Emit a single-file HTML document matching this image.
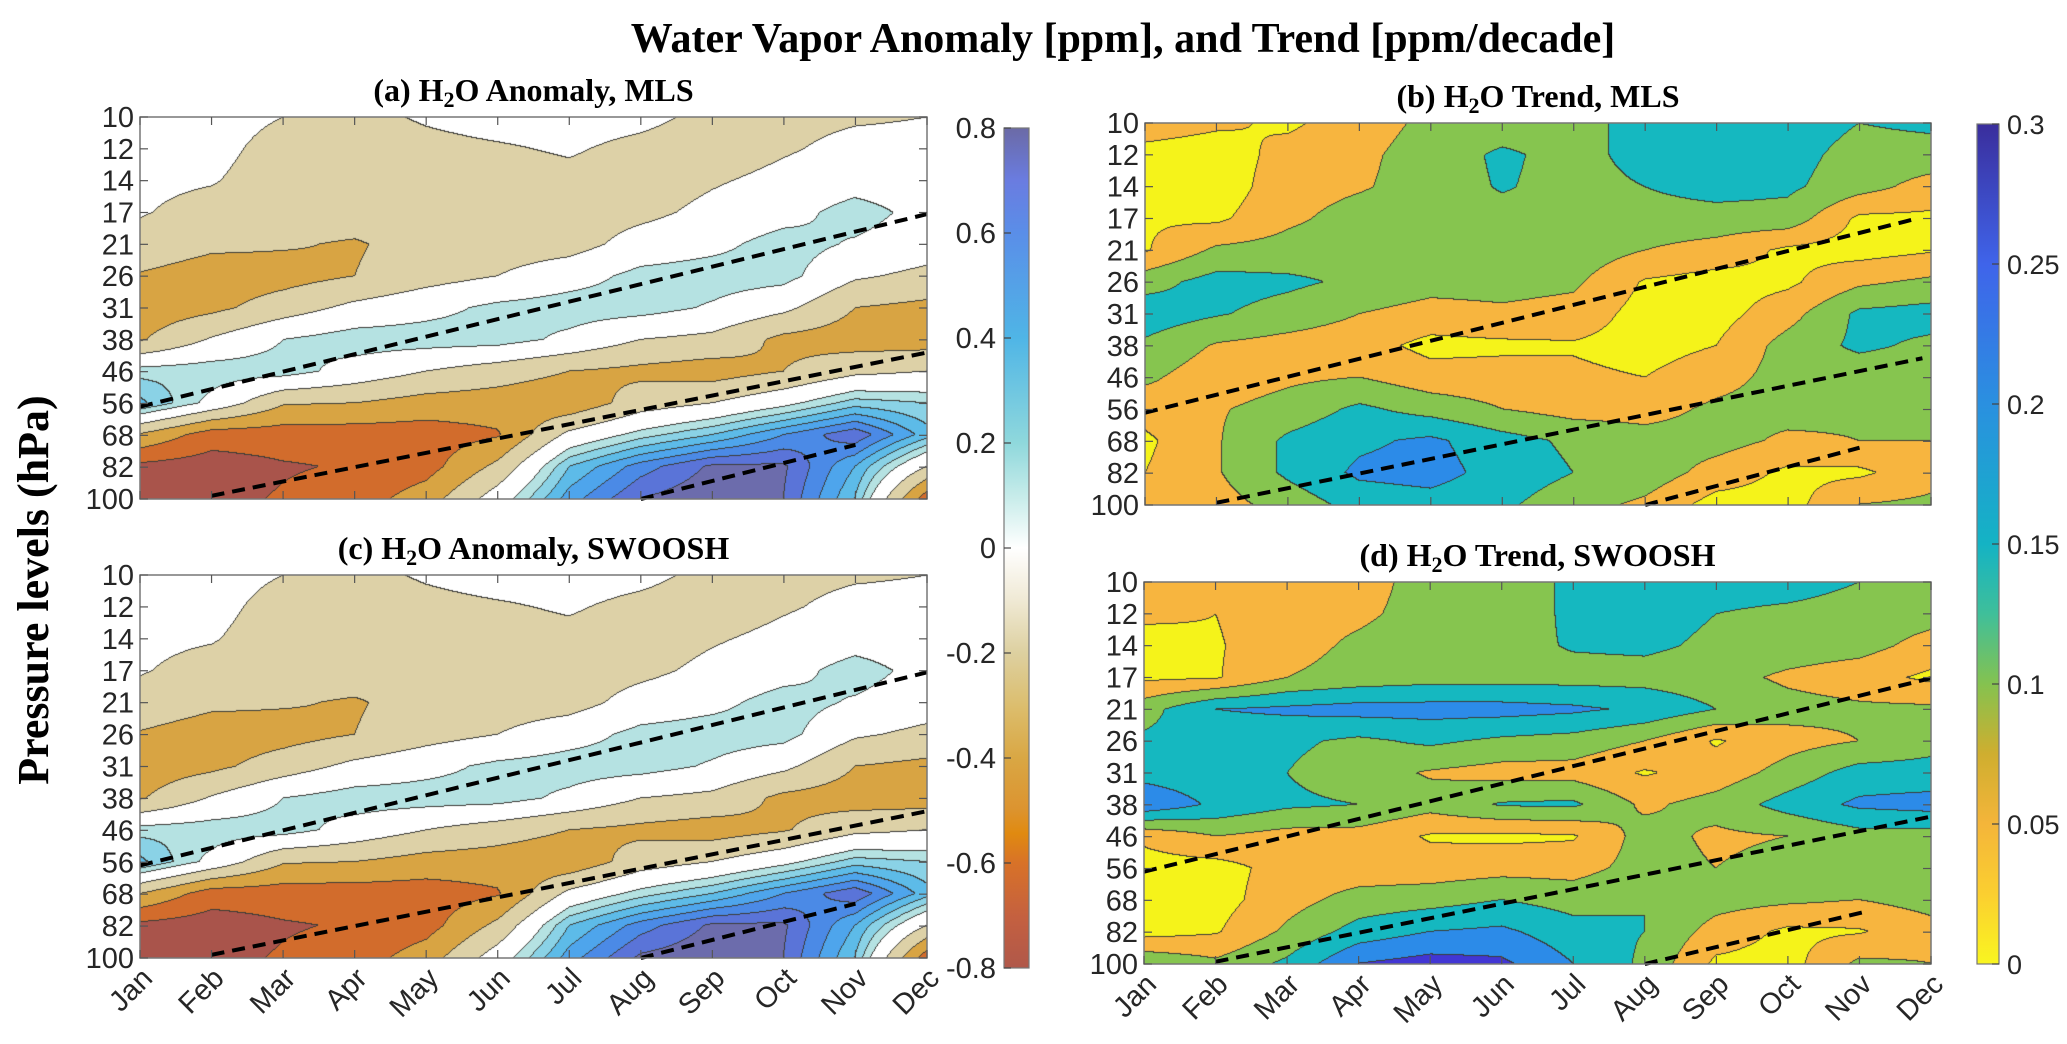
<!DOCTYPE html>
<html><head><meta charset="utf-8">
<style>
html,body{margin:0;padding:0;background:#fff;}
#root{position:relative;width:2067px;height:1044px;overflow:hidden;background:#fff;}
canvas{position:absolute;}
svg{position:absolute;left:0;top:0;}
</style></head>
<body>
<div id="root">
<canvas id="cvA"></canvas>
<canvas id="cvB"></canvas>
<canvas id="cvC"></canvas>
<canvas id="cvD"></canvas>
<svg id="ov" width="2067" height="1044">
<defs>
<linearGradient id="gA" x1="0" y1="0" x2="0" y2="1">
<stop offset="0" stop-color="#6b6aa6"/><stop offset="0.0625" stop-color="#6a7ce0"/><stop offset="0.125" stop-color="#5a8ee8"/>
<stop offset="0.25" stop-color="#4fb5e6"/><stop offset="0.375" stop-color="#8fd8dc"/><stop offset="0.44" stop-color="#c8ecea"/>
<stop offset="0.5" stop-color="#ffffff"/><stop offset="0.56" stop-color="#f0ead6"/><stop offset="0.625" stop-color="#ddd0a0"/>
<stop offset="0.69" stop-color="#dcbd6c"/><stop offset="0.75" stop-color="#d9a744"/><stop offset="0.81" stop-color="#dc9430"/>
<stop offset="0.84" stop-color="#e08a10"/><stop offset="0.875" stop-color="#d87228"/><stop offset="0.94" stop-color="#c46040"/>
<stop offset="1" stop-color="#b0584a"/></linearGradient>
<linearGradient id="gB" x1="0" y1="0" x2="0" y2="1">
<stop offset="0" stop-color="#3a2e9c"/><stop offset="0.167" stop-color="#3f64ea"/><stop offset="0.333" stop-color="#2a90e0"/>
<stop offset="0.5" stop-color="#14b3c4"/><stop offset="0.583" stop-color="#3fbf9a"/><stop offset="0.667" stop-color="#85c24f"/>
<stop offset="0.75" stop-color="#cfae2f"/><stop offset="0.833" stop-color="#f4b53a"/><stop offset="0.917" stop-color="#fbcf30"/>
<stop offset="1" stop-color="#f9f520"/></linearGradient>
</defs>
<text x="1123" y="52" text-anchor="middle" font-family="Liberation Serif, serif" font-weight="bold" font-size="42">Water Vapor Anomaly [ppm], and Trend [ppm/decade]</text>
<text transform="translate(48,590) rotate(-90)" text-anchor="middle" font-family="Liberation Serif, serif" font-weight="bold" font-size="44">Pressure levels (hPa)</text>
</svg>
</div>
<script>
const months=['Jan','Feb','Mar','Apr','May','Jun','Jul','Aug','Sep','Oct','Nov','Dec'];
const levels=['10','12','14','17','21','26','31','38','46','56','68','82','100'];
const anomTickVals=[0.8,0.6,0.4,0.2,0,-0.2,-0.4,-0.6,-0.8];
const anomTickLabels=['0.8','0.6','0.4','0.2','0','-0.2','-0.4','-0.6','-0.8'];
const trendTickVals=[0.3,0.25,0.2,0.15,0.1,0.05,0];
const trendTickLabels=['0.3','0.25','0.2','0.15','0.1','0.05','0'];
const anomEdges=[-0.7,-0.5,-0.3,-0.1,0.1,0.2,0.3,0.4,0.5,0.6,0.7];
const anomColors=['#a9544b','#d26c2c','#d8a443','#ddd1a7','#ffffff','#b5e2e2','#8ad2e6','#5dbbe8','#4ea5ec','#4b8ae6','#5a74d8','#6c6cac'];
const trendEdges=[0.05,0.1,0.15,0.2,0.25];
const trendColors=['#f5f31a','#f7b53f','#86c54f','#15b8c0','#2c8be8','#4236d4'];
// each entry = one month, values from 10 hPa (top) to 100 hPa (bottom)
const anomMLS=[
[-0.05,-0.05,-0.07,-0.09,-0.15,-0.32,-0.42,-0.32,0.16,0.33,-0.32,-0.75,-0.75],
[-0.05,-0.06,-0.09,-0.15,-0.25,-0.42,-0.35,-0.08,0.18,0.05,-0.6,-0.8,-0.76],
[-0.1,-0.15,-0.17,-0.2,-0.28,-0.38,-0.2,0.1,0.17,-0.28,-0.6,-0.72,-0.68],
[-0.15,-0.2,-0.2,-0.2,-0.32,-0.3,-0.05,0.18,0.03,-0.3,-0.6,-0.68,-0.6],
[-0.08,-0.15,-0.2,-0.22,-0.22,-0.18,0.04,0.18,-0.1,-0.38,-0.6,-0.58,-0.4],
[-0.03,-0.12,-0.18,-0.2,-0.2,-0.1,0.14,0.17,-0.2,-0.4,-0.52,-0.25,0.0],
[-0.02,-0.08,-0.15,-0.2,-0.18,0.02,0.18,0.06,-0.3,-0.45,-0.05,0.3,0.45],
[-0.05,-0.15,-0.2,-0.15,-0.02,0.15,0.17,-0.1,-0.35,-0.2,0.15,0.55,0.7],
[-0.15,-0.2,-0.12,-0.05,0.05,0.18,0.08,-0.15,-0.4,-0.1,0.3,0.72,0.78],
[-0.15,-0.12,-0.05,0.03,0.17,0.16,-0.05,-0.35,-0.3,0.05,0.5,0.72,0.7],
[-0.12,-0.05,0.02,0.17,0.08,-0.07,-0.3,-0.4,-0.15,0.25,0.68,0.4,0.3],
[-0.1,-0.05,0.0,0.04,0.0,-0.15,-0.35,-0.4,-0.1,0.2,0.35,-0.1,-0.6]];
const anomSWOOSH=[
[-0.05,-0.05,-0.07,-0.09,-0.15,-0.32,-0.42,-0.32,0.16,0.33,-0.3,-0.75,-0.75],
[-0.05,-0.06,-0.09,-0.15,-0.25,-0.42,-0.35,-0.08,0.18,0.05,-0.6,-0.8,-0.76],
[-0.1,-0.15,-0.17,-0.2,-0.28,-0.38,-0.2,0.1,0.17,-0.28,-0.6,-0.72,-0.68],
[-0.15,-0.2,-0.2,-0.2,-0.32,-0.3,-0.05,0.18,0.03,-0.3,-0.6,-0.68,-0.6],
[-0.08,-0.15,-0.2,-0.22,-0.22,-0.18,0.04,0.18,-0.1,-0.38,-0.6,-0.58,-0.4],
[-0.03,-0.12,-0.18,-0.2,-0.2,-0.1,0.14,0.17,-0.2,-0.4,-0.52,-0.25,0.0],
[-0.02,-0.08,-0.15,-0.2,-0.18,0.02,0.18,0.06,-0.3,-0.45,-0.05,0.3,0.45],
[-0.05,-0.15,-0.2,-0.15,-0.02,0.15,0.17,-0.1,-0.35,-0.2,0.15,0.55,0.72],
[-0.15,-0.2,-0.12,-0.05,0.05,0.18,0.08,-0.15,-0.4,-0.1,0.3,0.72,0.78],
[-0.15,-0.12,-0.05,0.03,0.17,0.16,-0.05,-0.35,-0.32,0.05,0.5,0.72,0.7],
[-0.12,-0.05,0.02,0.17,0.08,-0.07,-0.3,-0.4,-0.15,0.25,0.68,0.4,0.3],
[-0.1,-0.05,0.0,0.04,0.0,-0.15,-0.35,-0.4,-0.1,0.2,0.35,-0.1,-0.6]];
const trendMLS=[
[0.08,0.03,0.02,0.045,0.045,0.13,0.18,0.14,0.11,0.07,0.04,0.05,0.08],
[0.06,0.02,0.02,0.04,0.11,0.17,0.155,0.095,0.07,0.095,0.095,0.095,0.08],
[0.04,0.07,0.08,0.09,0.12,0.16,0.13,0.08,0.09,0.12,0.16,0.16,0.12],
[0.08,0.09,0.095,0.12,0.13,0.14,0.1,0.07,0.1,0.16,0.19,0.21,0.17],
[0.11,0.12,0.12,0.13,0.13,0.12,0.08,0.035,0.07,0.13,0.21,0.22,0.18],
[0.12,0.16,0.155,0.13,0.13,0.12,0.09,0.04,0.07,0.1,0.17,0.18,0.16],
[0.13,0.13,0.13,0.13,0.13,0.11,0.08,0.045,0.06,0.08,0.14,0.15,0.12],
[0.17,0.17,0.15,0.13,0.1,0.045,0.03,0.03,0.05,0.08,0.12,0.13,0.09],
[0.18,0.18,0.17,0.13,0.08,0.03,0.03,0.05,0.08,0.11,0.12,0.08,0.03],
[0.18,0.17,0.16,0.13,0.04,0.04,0.08,0.12,0.12,0.12,0.09,0.04,0.03],
[0.15,0.13,0.12,0.04,0.03,0.09,0.16,0.16,0.12,0.11,0.1,0.04,0.1],
[0.16,0.13,0.08,0.04,0.045,0.11,0.17,0.14,0.12,0.12,0.1,0.08,0.11]];
const trendSWOOSH=[
[0.08,0.06,0.03,0.04,0.13,0.16,0.18,0.24,0.06,0.03,0.04,0.03,0.14],
[0.08,0.05,0.045,0.045,0.2,0.17,0.17,0.19,0.1,0.03,0.03,0.045,0.11],
[0.08,0.08,0.08,0.1,0.21,0.16,0.15,0.16,0.08,0.07,0.08,0.11,0.16],
[0.08,0.09,0.11,0.12,0.22,0.14,0.12,0.15,0.08,0.07,0.12,0.17,0.25],
[0.12,0.12,0.13,0.13,0.22,0.16,0.095,0.12,0.045,0.07,0.13,0.2,0.27],
[0.12,0.12,0.13,0.13,0.22,0.14,0.08,0.155,0.04,0.08,0.15,0.21,0.26],
[0.16,0.16,0.155,0.13,0.21,0.13,0.08,0.16,0.045,0.08,0.13,0.17,0.2],
[0.17,0.17,0.16,0.13,0.19,0.1,0.045,0.09,0.12,0.12,0.15,0.15,0.14],
[0.17,0.15,0.14,0.12,0.15,0.045,0.07,0.12,0.09,0.1,0.12,0.08,0.04],
[0.17,0.14,0.13,0.09,0.12,0.08,0.12,0.17,0.1,0.12,0.11,0.04,0.03],
[0.15,0.13,0.12,0.07,0.11,0.1,0.17,0.21,0.13,0.12,0.1,0.045,0.11],
[0.13,0.12,0.08,0.04,0.11,0.13,0.17,0.22,0.13,0.12,0.12,0.08,0.1]];
// dashed lines: [startMonth, startLevelIdx, endMonth, endLevelIdx]
const dashAC=[[0,9.1,11,3.05],[1,11.9,11,7.4],[7,12,10,10.3]];
const dashB=[[0,9.1,10.75,3.03],[1,11.93,10.88,7.39],[7,12,10,10.2]];
const dashD=[[0,9.1,11,3.02],[1,11.93,11,7.37],[7,12,10.08,10.36]];

const panels=[
 {id:'a',cv:'cvA',x0:140,x1:927,y0:117,y1:499,grid:anomMLS,edges:anomEdges,colors:anomColors,dash:dashAC,title:['(a) H','2','O Anomaly, MLS']},
 {id:'b',cv:'cvB',x0:1145,x1:1931,y0:123,y1:505,grid:trendMLS,edges:trendEdges,colors:trendColors,dash:dashB,title:['(b) H','2','O Trend, MLS']},
 {id:'c',cv:'cvC',x0:140,x1:927,y0:575,y1:958,grid:anomSWOOSH,edges:anomEdges,colors:anomColors,dash:dashAC,title:['(c) H','2','O Anomaly, SWOOSH']},
 {id:'d',cv:'cvD',x0:1144,x1:1931,y0:582,y1:964,grid:trendSWOOSH,edges:trendEdges,colors:trendColors,dash:dashD,title:['(d) H','2','O Trend, SWOOSH']}];

const NS='http://www.w3.org/2000/svg';
const ov=document.getElementById('ov');
function mk(tag,attrs,parent){const e=document.createElementNS(NS,tag);for(const k in attrs)e.setAttribute(k,attrs[k]);(parent||ov).appendChild(e);return e;}
function hex(c){return [parseInt(c.slice(1,3),16),parseInt(c.slice(3,5),16),parseInt(c.slice(5,7),16)];}

function drawField(p){
 const w=p.x1-p.x0,h=p.y1-p.y0;
 const cv=document.getElementById(p.cv);
 cv.width=w;cv.height=h;cv.style.left=p.x0+'px';cv.style.top=p.y0+'px';
 const ctx=cv.getContext('2d');const img=ctx.createImageData(w,h);
 const band=new Uint8Array(w*h);const cols=p.colors.map(hex);
 const g=p.grid,nc=g.length-1,nr=g[0].length-1;
 for(let j=0;j<h;j++){const rf=j/(h-1)*nr;let r0=Math.min(Math.floor(rf),nr-1);const fr=rf-r0;
  for(let i=0;i<w;i++){const cf=i/(w-1)*nc;let c0=Math.min(Math.floor(cf),nc-1);const fc=cf-c0;
   const v=g[c0][r0]*(1-fc)*(1-fr)+g[c0+1][r0]*fc*(1-fr)+g[c0][r0+1]*(1-fc)*fr+g[c0+1][r0+1]*fc*fr;
   let b=0;while(b<p.edges.length&&v>=p.edges[b])b++;band[j*w+i]=b;}}
 for(let k=0;k<w*h;k++){const c=cols[band[k]];img.data[4*k]=c[0];img.data[4*k+1]=c[1];img.data[4*k+2]=c[2];img.data[4*k+3]=255;}
 for(let j=0;j<h;j++)for(let i=0;i<w;i++){const k=j*w+i;
  if((i<w-1&&band[k]!==band[k+1])||(j<h-1&&band[k]!==band[k+w])){img.data[4*k]=60;img.data[4*k+1]=60;img.data[4*k+2]=55;}}
 ctx.putImageData(img,0,0);
}

panels.forEach(p=>{
 drawField(p);
 const xs=m=>p.x0+m/11*(p.x1-p.x0);
 const ys=r=>p.y0+r/12*(p.y1-p.y0);
 const grp=mk('g',{});
 
 
 p.dash.forEach((d,i)=>{
  const ln=mk('line',{x1:xs(d[0]),y1:ys(d[1]),x2:xs(d[2]),y2:ys(d[3]),stroke:'#000','stroke-width':4,'stroke-dasharray':'13 8'},grp);
  
  
 });
 const box=mk('rect',{x:p.x0,y:p.y0,width:p.x1-p.x0,height:p.y1-p.y0,fill:'none',stroke:'#777','stroke-width':1.5},grp);
 
 
 levels.forEach((lv,r)=>{
  const y=ys(r);
  mk('line',{x1:p.x0,y1:y,x2:p.x0+8,y2:y,stroke:'#555','stroke-width':1.2},grp);
  mk('line',{x1:p.x1,y1:y,x2:p.x1-8,y2:y,stroke:'#555','stroke-width':1.2},grp);
  const t=mk('text',{x:p.x0-6,y:y+10,'text-anchor':'end','font-family':'Liberation Sans Narrow, Liberation Sans, sans-serif','font-size':29,fill:'#262626'},grp);
  t.textContent=lv;
  
  
 });
 months.forEach((m,c)=>{
  const x=xs(c);
  mk('line',{x1:x,y1:p.y1,x2:x,y2:p.y1-8,stroke:'#555','stroke-width':1.2},grp);
  mk('line',{x1:x,y1:p.y0,x2:x,y2:p.y0+8,stroke:'#555','stroke-width':1.2},grp);
  if(p.id==='c'||p.id==='d'){
   const t=mk('text',{transform:'translate('+(x+14)+','+(p.y1+22)+') rotate(-45)','text-anchor':'end','font-family':'Liberation Sans Narrow, Liberation Sans, sans-serif','font-size':29,fill:'#262626'},grp);
   t.textContent=m;
   
   
  }
 });
 const tt=mk('text',{x:(p.x0+p.x1)/2,y:p.y0-16,'text-anchor':'middle','font-family':'Liberation Serif, serif','font-weight':'bold','font-size':32},grp);
 
 
 const s1=mk('tspan',{},tt);s1.textContent=p.title[0];
 const s2=mk('tspan',{dy:6,'font-size':22},tt);s2.textContent=p.title[1];
 const s3=mk('tspan',{dy:-6},tt);s3.textContent=p.title[2];
});

function colorbar(name,x,y0,y1,w,grad,vals,labels,vmin,vmax,side){
 const g=mk('g',{});
 
 
 mk('rect',{x:x,y:y0,width:w,height:y1-y0,fill:'url(#'+grad+')',stroke:'#777','stroke-width':1.2},g);
 const sc=v=>y1-(v-vmin)/(vmax-vmin)*(y1-y0);
 vals.forEach((v,i)=>{
  const y=sc(v);
  if(side==='left'){mk('line',{x1:x,y1:y,x2:x+7,y2:y,stroke:'#444','stroke-width':1.2},g);}
  else{mk('line',{x1:x+w,y1:y,x2:x+w-7,y2:y,stroke:'#444','stroke-width':1.2},g);}
  const t=mk('text',side==='left'?{x:x-8,y:y+10,'text-anchor':'end','font-family':'Liberation Sans Narrow, Liberation Sans, sans-serif','font-size':29,fill:'#262626'}:{x:x+w+8,y:y+10,'text-anchor':'start','font-family':'Liberation Sans, sans-serif','font-size':27,fill:'#262626'},g);
  t.textContent=labels[i];
  
  
 });
}
colorbar('anomaly-colorbar',1004,128,968,25,'gA',anomTickVals,anomTickLabels,-0.8,0.8,'left');
colorbar('trend-colorbar',1977,124,964,22,'gB',trendTickVals,trendTickLabels,0,0.3,'right');
</script>
</body></html>
